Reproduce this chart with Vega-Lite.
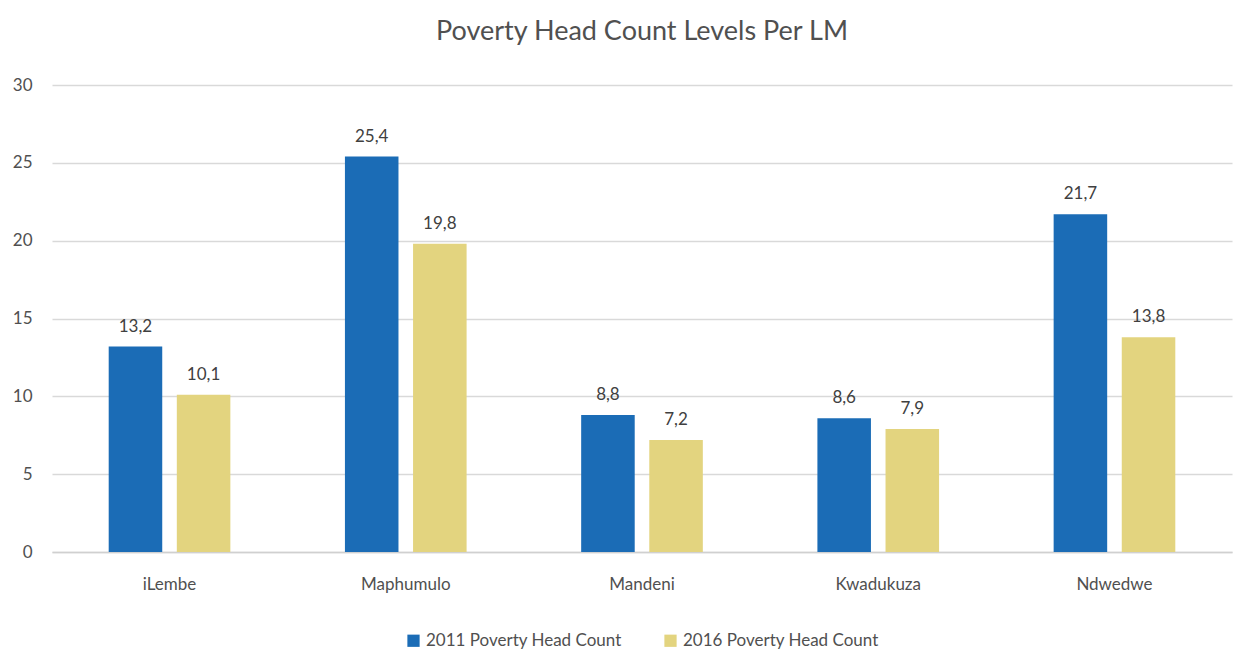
{
  "$schema": "https://vega.github.io/schema/vega-lite/v6.json",
  "width": 1180,
  "height": 467,
  "autosize": {"type": "none"},
  "padding": {"left": 52, "top": 85, "right": 14, "bottom": 101},
  "background": "white",
  "config": {
    "font": "Lato",
    "view": {"stroke": null},
    "legend": {"layout": {"bottom": {"anchor": "middle"}}},
    "locale": {"number": {"decimal": ",", "thousands": ".", "grouping": [3], "currency": ["", ""]}}
  },
  "title": {"text": "Poverty Head Count Levels Per LM", "fontSize": 27, "fontWeight": "normal", "color": "#505050", "offset": 30, "anchor": "middle"},
  "data": {"values": [
    {"lm": "iLembe", "series": "2011 Poverty Head Count", "value": 13.2},
    {"lm": "iLembe", "series": "2016 Poverty Head Count", "value": 10.1},
    {"lm": "Maphumulo", "series": "2011 Poverty Head Count", "value": 25.4},
    {"lm": "Maphumulo", "series": "2016 Poverty Head Count", "value": 19.8},
    {"lm": "Mandeni", "series": "2011 Poverty Head Count", "value": 8.8},
    {"lm": "Mandeni", "series": "2016 Poverty Head Count", "value": 7.2},
    {"lm": "Kwadukuza", "series": "2011 Poverty Head Count", "value": 8.6},
    {"lm": "Kwadukuza", "series": "2016 Poverty Head Count", "value": 7.9},
    {"lm": "Ndwedwe", "series": "2011 Poverty Head Count", "value": 21.7},
    {"lm": "Ndwedwe", "series": "2016 Poverty Head Count", "value": 13.8}
  ]},
  "encoding": {
    "x": {"field": "lm", "type": "nominal", "sort": null,
      "scale": {"paddingInner": 0.485, "paddingOuter": 0.24},
      "axis": {"title": null, "labelAngle": 0, "labelFontSize": 17, "labelColor": "#505050", "labelPadding": 24, "ticks": false, "domainColor": "#d0d0d0", "domainWidth": 1.5}},
    "xOffset": {"field": "series", "type": "nominal", "scale": {"paddingInner": 0.214, "paddingOuter": 0}},
    "y": {"field": "value", "type": "quantitative",
      "scale": {"domain": [0, 30]},
      "axis": {"title": null, "values": [0, 5, 10, 15, 20, 25, 30], "labelFontSize": 17, "labelColor": "#505050", "labelPadding": 20, "ticks": false, "domain": false, "gridColor": "#d9d9d9", "gridWidth": 1.5}}
  },
  "layer": [
    {
      "mark": {"type": "bar"},
      "encoding": {
        "color": {"field": "series", "type": "nominal",
          "scale": {"range": ["#1b6cb6", "#e3d47f"]},
          "legend": {"title": null, "orient": "bottom", "direction": "horizontal", "symbolType": "square", "symbolSize": 150, "labelFontSize": 17, "labelColor": "#505050", "labelLimit": 400, "offset": 40, "columnPadding": 40, "symbolStrokeWidth": 0}}
      }
    },
    {
      "mark": {"type": "text", "dy": -20, "fontSize": 17, "color": "#404040"},
      "encoding": {
        "text": {"field": "value", "type": "quantitative", "format": ".1f"}
      }
    }
  ]
}
